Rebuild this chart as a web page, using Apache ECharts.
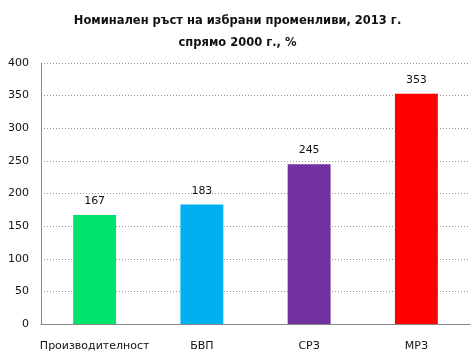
<!DOCTYPE html>
<html><head><meta charset="utf-8">
<script src="https://cdn.jsdelivr.net/npm/echarts@6/dist/echarts.min.js"></script>
<style>html,body{margin:0;padding:0;background:#fff}#c{width:475px;height:364px}</style>
</head><body><div id="c"></div>
<script>
const categories = ['Производителност', 'БВП', 'СРЗ', 'МРЗ'];
const values = [167, 183, 245, 353];
const colors = ['#00E46C', '#00B0F0', '#7030A0', '#FF0000'];
const yTicks = [0, 50, 100, 150, 200, 250, 300, 350, 400];
const titleText = 'Номинален ръст на избрани променливи, 2013 г.\nспрямо 2000 г., %';

const chart = echarts.init(document.getElementById('c'), null, {renderer: 'canvas'});
chart.setOption({
  animation: false,
  backgroundColor: '#fff',
  title: {
    text: titleText, left: 'center', top: 5,
    textStyle: {fontFamily: 'DejaVu Sans', fontWeight: 'bold', fontSize: 11.5, color: '#111', lineHeight: 22}
  },
  grid: {left: 41, right: 5, top: 63, bottom: 40, containLabel: false},
  xAxis: {
    type: 'category', data: categories,
    axisLine: {lineStyle: {color: '#888', width: 1}},
    axisTick: {show: false},
    axisLabel: {interval: 0, color: '#111', fontFamily: 'DejaVu Sans', fontSize: 11, margin: 17}
  },
  yAxis: {
    type: 'value', min: yTicks[0], max: yTicks[yTicks.length - 1], interval: 50,
    axisLine: {show: true, lineStyle: {color: '#888', width: 1}},
    axisTick: {show: false},
    splitLine: {lineStyle: {color: '#999', type: [1, 2], width: 1}},
    axisLabel: {color: '#111', fontFamily: 'DejaVu Sans', fontSize: 11, margin: 12}
  },
  series: [{
    type: 'bar', barWidth: '40%',
    data: values.map((v, i) => ({value: v, itemStyle: {color: colors[i]}})),
    label: {show: true, position: 'top', distance: 8, color: '#111', fontFamily: 'DejaVu Sans', fontSize: 11}
  }]
});
</script></body></html>
